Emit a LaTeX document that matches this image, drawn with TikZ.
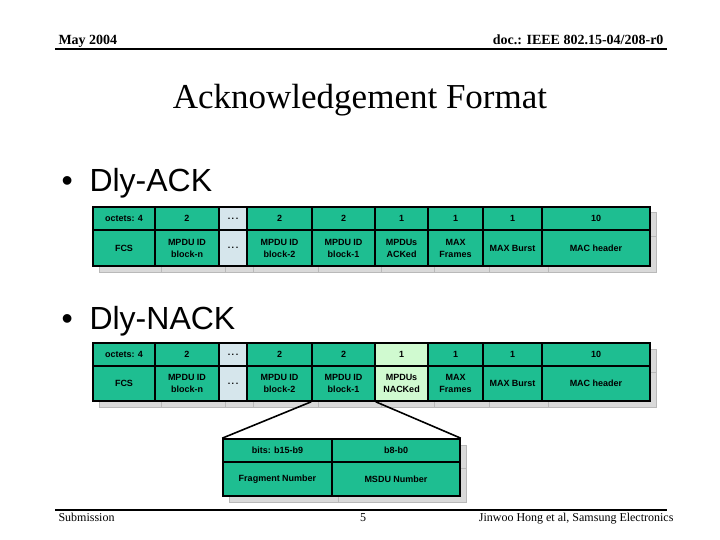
\documentclass[tikz,border=0pt]{standalone}
\usepackage{fontspec}
\setmainfont{Liberation Serif}
\newfontfamily\arialfont{Liberation Sans}
\usetikzlibrary{shadows}

\definecolor{fieldgreen}{RGB}{30,190,145}
\definecolor{dotsblue}{RGB}{214,230,236}
\definecolor{nackgreen}{RGB}{208,250,208}

\newcommand{\fielddots}{.\,.\,.}

\tikzset{
  field/.style={draw, line width=1.6pt, fill=fieldgreen, inner sep=0pt, align=center,
    font=\arialfont\bfseries\fontsize{9}{12}\selectfont,
    drop shadow={shadow xshift=6pt, shadow yshift=-6pt, fill=gray!30, draw=gray!55,
      line width=1pt, opacity=1}},
  dotsfield/.style={field, fill=dotsblue},
  nackfield/.style={field, fill=nackgreen},
  bullettext/.style={anchor=base west, font=\arialfont\fontsize{32}{36}\selectfont},
}

\begin{document}
\begin{tikzpicture}[x=1pt, y=-1pt]
  \useasboundingbox (0,0) rectangle (720,540);

  % Header and footer
  \node[anchor=base west, font=\bfseries\fontsize{14}{16}\selectfont] (date) at (55,45) {May 2004};
  \node[anchor=base east, font=\bfseries\fontsize{14}{16}\selectfont] (docid) at (667,45) {doc.: IEEE 802.15-04/208-r0};
  \draw[line width=2.5pt] (55,49) -- (667,49);
  \draw[line width=2.5pt] (55,510) -- (667,510);
  \node[anchor=base west, font=\fontsize{12}{14}\selectfont] (subm) at (55,521) {Submission};
  \node[anchor=base, font=\fontsize{12}{14}\selectfont] (page) at (363,521) {5};
  \node[anchor=base east, font=\fontsize{12}{14}\selectfont] (authors) at (677,521) {Jinwoo Hong et al, Samsung Electronics};

  % Title
  \node[anchor=base, font=\fontsize{35}{40}\selectfont] (title) at (360,109) {Acknowledgement Format};

  % Dly-ACK
  \node[bullettext] (ackbul) at (58,192) {\textbullet};
  \node[bullettext] (acklbl) at (86,192) {Dly-ACK};
  \foreach \xa/\xb/\i/\sz/\lbl/\sty in {93/155/1/octets: 4/FCS/field,
      155/219/2/2/MPDU ID\\block-n/field, 219/247/3/\fielddots/\fielddots/dotsfield,
      247/312/4/2/MPDU ID\\block-2/field, 312/375/5/2/MPDU ID\\block-1/field,
      375/428/6/1/MPDUs\\ACKed/field, 428/483/7/1/MAX\\Frames/field,
      483/542/8/1/MAX Burst/field, 542/650/9/10/MAC header/field}
    \node[\sty, minimum width={(\xb-\xa)*1pt}, minimum height=23pt]
      (ack-s\i) at ({(\xa+\xb)/2},218.5) {\sz};
  \foreach \xa/\xb/\i/\sz/\lbl/\sty in {93/155/1/octets: 4/FCS/field,
      155/219/2/2/MPDU ID\\block-n/field, 219/247/3/\fielddots/\fielddots/dotsfield,
      247/312/4/2/MPDU ID\\block-2/field, 312/375/5/2/MPDU ID\\block-1/field,
      375/428/6/1/MPDUs\\ACKed/field, 428/483/7/1/MAX\\Frames/field,
      483/542/8/1/MAX Burst/field, 542/650/9/10/MAC header/field}
    \node[\sty, minimum width={(\xb-\xa)*1pt}, minimum height=36pt]
      (ack-f\i) at ({(\xa+\xb)/2},248) {\lbl};

  % Dly-NACK
  \node[bullettext] (nackbul) at (58,329) {\textbullet};
  \node[bullettext] (nacklbl) at (86,329) {Dly-NACK};
  \foreach \xa/\xb/\i/\sz/\lbl/\sty in {93/155/1/octets: 4/FCS/field,
      155/219/2/2/MPDU ID\\block-n/field, 219/247/3/\fielddots/\fielddots/dotsfield,
      247/312/4/2/MPDU ID\\block-2/field, 312/375/5/2/MPDU ID\\block-1/field,
      375/428/6/1/MPDUs\\NACKed/nackfield, 428/483/7/1/MAX\\Frames/field,
      483/542/8/1/MAX Burst/field, 542/650/9/10/MAC header/field}
    \node[\sty, minimum width={(\xb-\xa)*1pt}, minimum height=23pt]
      (nack-s\i) at ({(\xa+\xb)/2},354.5) {\sz};
  \foreach \xa/\xb/\i/\sz/\lbl/\sty in {93/155/1/octets: 4/FCS/field,
      155/219/2/2/MPDU ID\\block-n/field, 219/247/3/\fielddots/\fielddots/dotsfield,
      247/312/4/2/MPDU ID\\block-2/field, 312/375/5/2/MPDU ID\\block-1/field,
      375/428/6/1/MPDUs\\NACKed/nackfield, 428/483/7/1/MAX\\Frames/field,
      483/542/8/1/MAX Burst/field, 542/650/9/10/MAC header/field}
    \node[\sty, minimum width={(\xb-\xa)*1pt}, minimum height=35pt]
      (nack-f\i) at ({(\xa+\xb)/2},383.5) {\lbl};

  % MPDU ID bits
  \node[field, minimum width=109pt, minimum height=23pt] (frag-s) at (277.5,450.5) {bits: b15-b9};
  \node[field, minimum width=128pt, minimum height=23pt] (msdu-s) at (396,450.5) {b8-b0};
  \node[field, minimum width=109pt, minimum height=34pt] (frag-f) at (277.5,479) {Fragment Number};
  \node[field, minimum width=128pt, minimum height=34pt] (msdu-f) at (396,479) {MSDU Number};

  \draw[line width=1.6pt] (nack-f5.south west) -- (frag-s.north west);
  \draw[line width=1.6pt] (nack-f5.south east) -- (msdu-s.north east);
\end{tikzpicture}
\end{document}
